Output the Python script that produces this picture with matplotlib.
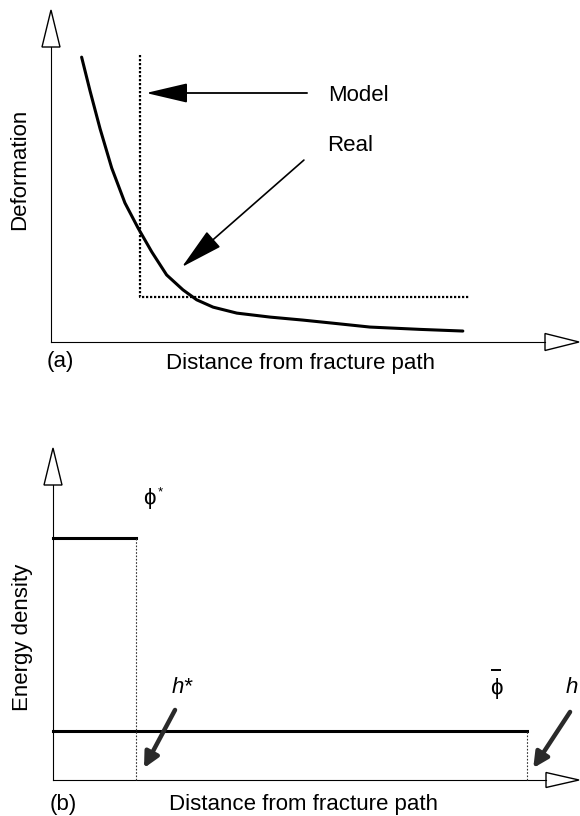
import matplotlib
matplotlib.use("Agg")
import matplotlib.pyplot as plt
from matplotlib.patches import Polygon

plt.rcParams['font.family'] = ['Liberation Sans', 'DejaVu Sans']

# ---- panel (a): deformation vs distance ----
real_x = [0.58, 0.74, 0.93, 1.15, 1.40, 1.65, 1.91, 2.19, 2.50, 2.76, 3.07, 3.52,
          4.15, 4.77, 5.38, 6.04, 6.99, 7.80]
real_y = [8.58, 7.56, 6.42, 5.24, 4.19, 3.43, 2.71, 2.02, 1.57, 1.27, 1.05, 0.87,
          0.75, 0.66, 0.56, 0.45, 0.38, 0.33]
model_x = [1.69, 1.69, 7.94]
model_y = [8.64, 1.36, 1.36]
model_arrow = [(4.85, 7.50), (1.80, 7.50)]   # tail, tip
real_arrow = [(4.79, 5.48), (2.48, 2.26)]
model_label = (5.25, 7.41)
real_label = (5.23, 5.93)

# ---- panel (b): energy density vs distance ----
h_star = 1.58
h_full = 9.01
phi_star = 7.29
phi_bar = 1.48
phi_star_label = (1.71, 8.49)
h_star_label = (2.26, 2.80)
phi_bar_label = (8.42, 2.77)
h_label = (9.75, 2.80)
h_star_arrow = [(2.32, 2.11), (1.73, 0.36)]
h_arrow = [(9.83, 2.05), (9.13, 0.36)]

FS = 16
W, H = 580, 816

fig = plt.figure(figsize=(W / 100, H / 100), dpi=100)
ax_a = fig.add_axes([51 / W, (H - 342) / H, 528 / W, 332 / H])
ax_b = fig.add_axes([53 / W, (H - 780) / H, 526 / W, 332 / H])


def draw_axes(ax, wpx, hpx, yhead, xhead, xhalf):
    ax.set_xlim(0, 10)
    ax.set_ylim(0, 10)
    ax.set_xticks([])
    ax.set_yticks([])
    for s in ax.spines.values():
        s.set_visible(False)
    yb = 1 - yhead / hpx
    xb = 1 - xhead / wpx
    ax.plot([0, 0], [0, yb], color='black', lw=0.8, transform=ax.transAxes, clip_on=False)
    ax.plot([0, xb], [0, 0], color='black', lw=0.8, transform=ax.transAxes, clip_on=False)
    hw = 9 / wpx
    ax.add_patch(Polygon([(-hw, yb), (hw, yb), (0, 1)], closed=True, fc='white', ec='black',
                         lw=1.0, transform=ax.transAxes, clip_on=False))
    hh = xhalf / hpx
    ax.add_patch(Polygon([(xb, -hh), (xb, hh), (1, 0)], closed=True, fc='white', ec='black',
                         lw=1.0, transform=ax.transAxes, clip_on=False))


draw_axes(ax_a, 528, 332, 37, 34, 8.5)
draw_axes(ax_b, 526, 332, 37, 33, 7.5)

# panel (a)
ax_a.plot(model_x, model_y, color='black', lw=1.6, ls=(0, (1, 0.8)), clip_on=False)
ax_a.plot(real_x, real_y, color='black', lw=2.2, solid_capstyle='round',
          solid_joinstyle='round', clip_on=False)
ax_a.annotate('', xy=model_arrow[1], xytext=model_arrow[0],
              arrowprops=dict(arrowstyle='-|>,head_length=2.6,head_width=0.61', lw=1.3,
                              color='black', shrinkA=0, shrinkB=0, mutation_scale=10))
ax_a.annotate('', xy=real_arrow[1], xytext=real_arrow[0],
              arrowprops=dict(arrowstyle='-|>,head_length=2.7,head_width=0.65', lw=1.2,
                              color='black', shrinkA=0, shrinkB=0, mutation_scale=10))
ax_a.text(*model_label, 'Model', fontsize=FS, ha='left', va='center')
ax_a.text(*real_label, 'Real', fontsize=FS, ha='left', va='center')

ax_a.set_ylabel('Deformation', fontsize=FS, va='center', ha='center')
ax_a.yaxis.set_label_coords(-0.0587, 0.521)
ax_a.set_xlabel('Distance from fracture path', fontsize=FS, va='center')
ax_a.xaxis.set_label_coords(0.4716, -0.0633)
ax_a.text(-0.0076, -0.0602, '(a)', fontsize=FS, ha='left', va='center', transform=ax_a.transAxes)

# panel (b)
ax_b.plot([0, h_star], [phi_star, phi_star], color='black', lw=2.2, clip_on=False)
ax_b.plot([0, h_full], [phi_bar, phi_bar], color='black', lw=2.2, clip_on=False)
ax_b.plot([h_star, h_star], [0, phi_star], color='#333333', lw=0.8, ls=(0, (1.5, 1.5)), clip_on=False)
ax_b.plot([h_full, h_full], [0, phi_bar], color='#333333', lw=0.8, ls=(0, (1.5, 1.5)), clip_on=False)

for tail, tip in (h_star_arrow, h_arrow):
    ax_b.annotate('', xy=tip, xytext=tail,
                  arrowprops=dict(arrowstyle='-|>,head_length=0.9,head_width=0.45', lw=3.2,
                                  color='#2a2a2a', shrinkA=0, shrinkB=0, mutation_scale=10))

ax_b.text(*phi_star_label, 'ϕ', fontsize=FS, ha='left', va='center')
ax_b.annotate('*', xy=phi_star_label, xytext=(11, 4), textcoords='offset points',
              fontsize=FS * 0.6, ha='left', va='center')
ax_b.text(*h_star_label, 'h*', fontsize=FS, style='italic', ha='left', va='center')
ax_b.text(*phi_bar_label, 'ϕ', fontsize=FS, ha='center', va='center')
# bar over the phi
bx, by = phi_bar_label
ax_b.plot([bx - 0.09, bx + 0.09], [by + 0.55, by + 0.55], color='black', lw=1.4,
          solid_capstyle='butt')
ax_b.text(*h_label, 'h', fontsize=FS, style='italic', ha='left', va='center', clip_on=False)

ax_b.set_ylabel('Energy density', fontsize=FS, va='center', ha='center')
ax_b.yaxis.set_label_coords(-0.0589, 0.431)
ax_b.set_xlabel('Distance from fracture path', fontsize=FS, va='center')
ax_b.xaxis.set_label_coords(0.476, -0.0753)
ax_b.text(-0.0057, -0.0753, '(b)', fontsize=FS, ha='left', va='center', transform=ax_b.transAxes)

fig.savefig('out.png', dpi=100)
